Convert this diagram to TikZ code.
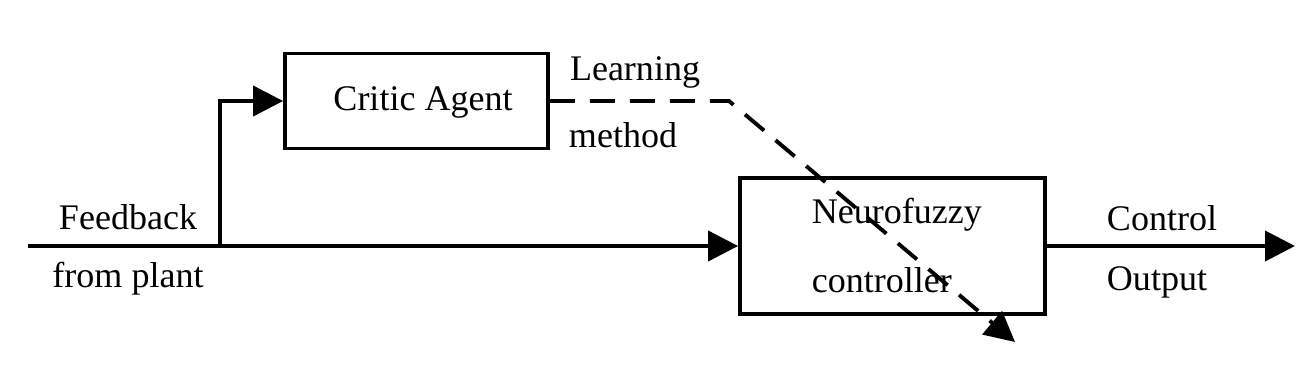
\documentclass[tikz,border=0pt]{standalone}
\usepackage{fontspec}
\setmainfont{Liberation Serif}
\usetikzlibrary{arrows.meta}

\begin{document}
\begin{tikzpicture}[x=0.02cm, y=-0.02cm,
    line width=2.2pt,
    >={Triangle[length=0.6cm, width=0.6cm]},
    block/.style={draw, rectangle, inner sep=0pt},
    lbl/.style={inner sep=0pt, font=\fontsize{20.5}{24}\selectfont}]
    \useasboundingbox (0,0) rectangle (1314,372);

    \node[block, minimum width=5.26cm, minimum height=1.9cm] (critic) at (416.5,101) {};
    \node[block, minimum width=6.1cm, minimum height=2.72cm] (nf) at (892.5,246) {};

    \node[lbl] (tcritic) at (423,102) {Critic Agent};
    \node[lbl, anchor=west] (tneuro) at (810,215) {Neurofuzzy};
    \node[lbl, anchor=west] (tctrl) at (810,280) {controller};

    \node[lbl] (tfeed) at (128,217) {Feedback};
    \node[lbl] (tplant) at (128,279) {from plant};
    \node[lbl] (tlearn) at (635,72) {Learning};
    \node[lbl] (tmeth) at (623,135) {method};
    \node[lbl] (tcontrol) at (1162,218) {Control};
    \node[lbl] (toutput) at (1157,282) {Output};

    \coordinate (in) at (28,246);
    \coordinate (br) at (220,246);
    \coordinate (out) at (1295,246);
    \coordinate (bend) at (729,101);
    \coordinate (tip) at (1015,342);

    \draw[->] (in) -- (nf.west);
    \draw[->] (br) |- (critic.west);
    \draw[->] (nf.east) -- (out);
    \draw[->, dash pattern=on 0.5cm off 0.3cm] (critic.east) -- (bend) -- (tip);
\end{tikzpicture}
\end{document}
